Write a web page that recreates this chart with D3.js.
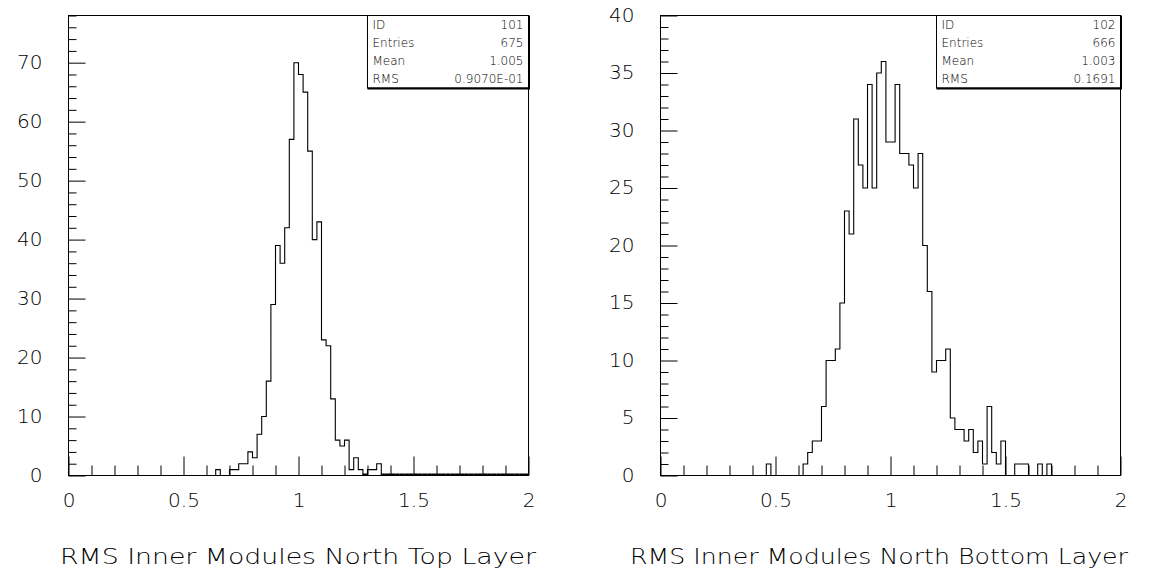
<!DOCTYPE html>
<html>
<head>
<meta charset="utf-8">
<script src="https://cdn.jsdelivr.net/npm/d3@7"></script>
<style>
  body { margin: 0; background: #fff; }
  svg { display: block; }
  text { font-family: 'DejaVu Sans', sans-serif; font-weight: 200; fill: #000; }
</style>
</head>
<body>
<div id="chart"></div>
<script>
// Data: 100 bins of width 0.02 from 0 to 2
const binEdges = [0, 2]
const binCount = 100
const topLayerCounts = [
  0,0,0,0,0,0,0,0,0,0,
  0,0,0,0,0,0,0,0,0,0,
  0,0,0,0,0,0,0,0,0,0,
  0,0,1,0,0,1,1,2,2,4,
  3,7,10,16,29,39,36,42,57,70,
  68,65,55,40,43,23,22,13,6,5,
  6,1,3,1,0,1,1,2,0,0,
  0,0,0,0,0,0,0,0,0,0,
  0,0,0,0,0,0,0,0,0,0,
  0,0,0,0,0,0,0,0,0,0
]
const bottomLayerCounts = [
  0,0,0,0,0,0,0,0,0,0,
  0,0,0,0,0,0,0,0,0,0,
  0,0,0,1,0,0,0,0,0,0,
  0,1,2,3,3,6,10,10,11,15,
  23,21,31,27,25,34,25,35,36,29,
  29,34,28,28,27,25,28,20,16,9,
  10,10,11,5,4,4,3,4,2,3,
  1,6,2,1,3,0,0,1,1,1,
  0,0,1,0,1,0,0,0,0,0,
  0,0,0,0,0,0,0,0,0,0
]
const xMajorTicks = [0, 0.5, 1, 1.5, 2]
const topYMajorTicks = [0, 10, 20, 30, 40, 50, 60, 70]
const bottomYMajorTicks = [0, 5, 10, 15, 20, 25, 30, 35, 40]
const statLabels = ['ID', 'Entries', 'Mean', 'RMS']
const topLayerStats = ['101', '675', '1.005', '0.9070E-01']
const bottomLayerStats = ['102', '666', '1.003', '0.1691']
const titles = ['RMS Inner Modules North Top Layer', 'RMS Inner Modules North Bottom Layer']

;(({ width, height }) => {
  const svg = d3.select('#chart').append('svg')
    .attr('width', width)
    .attr('height', height)

  const panels = [
    { counts: topLayerCounts, yMax: 78, yTicks: topYMajorTicks, yMinorStep: 2,
      stats: topLayerStats, title: titles[0], heavyZeroTail: true,
      left: 68.5, right: 528.5, boxLeft: 367.5, titleX: 298, titleLen: 476 },
    { counts: bottomLayerCounts, yMax: 40, yTicks: bottomYMajorTicks, yMinorStep: 1,
      stats: bottomLayerStats, title: titles[1], heavyZeroTail: false,
      left: 660.5, right: 1120.5, boxLeft: 936.5, titleX: 879, titleLen: 498 }
  ]
  const top = 15.5, bottom = 475.5

  panels.forEach(p => {
    const g = svg.append('g')
    const x = d3.scaleLinear().domain(binEdges).range([p.left, p.right])
    const y = d3.scaleLinear().domain([0, p.yMax]).range([bottom, top])
    const binWidth = (binEdges[1] - binEdges[0]) / binCount
    const binStart = i => binEdges[0] + i * binWidth

    // Histogram (step line)
    const pts = p.counts.map((c, i) => [binStart(i), c])
    pts.push([binEdges[1], p.counts[p.counts.length - 1]])
    g.append('path')
      .attr('d', d3.line().x(d => x(d[0])).y(d => y(d[1])).curve(d3.curveStepAfter)(pts))
      .attr('fill', 'none')
      .attr('stroke', '#000')
      .attr('stroke-width', 1.1)

    // Empty bins right of the peak print heavier on the axis line
    if (p.heavyZeroTail) {
      const peak = d3.maxIndex(p.counts)
      p.counts.forEach((c, i) => {
        if (i > peak && c === 0) {
          g.append('line')
            .attr('x1', x(binStart(i))).attr('x2', x(binStart(i + 1)))
            .attr('y1', y(0) - 1).attr('y2', y(0) - 1)
            .attr('stroke', '#000').attr('stroke-width', 2)
        }
      })
    }

    // Frame
    g.append('rect')
      .attr('x', p.left).attr('y', top)
      .attr('width', p.right - p.left).attr('height', bottom - top)
      .attr('fill', 'none').attr('stroke', '#000')

    // X axis ticks
    const xMinor = d3.range(0, 20.5).map(d => d / 10).filter(d => !xMajorTicks.includes(d))
    g.append('g')
      .attr('transform', `translate(0,${bottom})`)
      .call(d3.axisBottom(x).tickValues(xMinor).tickSize(-10).tickSizeOuter(0).tickFormat(''))
    g.append('g')
      .attr('class', 'xlab')
      .attr('transform', `translate(0,${bottom})`)
      .call(d3.axisBottom(x).tickValues(xMajorTicks).tickSize(-19).tickSizeOuter(0)
        .tickPadding(17).tickFormat(d => String(d)))

    // Y axis ticks
    const yMinor = d3.range(0, p.yMax + 0.01, p.yMinorStep).filter(d => !p.yTicks.includes(d))
    g.append('g')
      .attr('transform', `translate(${p.left},0)`)
      .call(d3.axisLeft(y).tickValues(yMinor).tickSize(-8).tickSizeOuter(0).tickFormat(''))
    g.append('g')
      .attr('class', 'ylab')
      .attr('transform', `translate(${p.left},0)`)
      .call(d3.axisLeft(y).tickValues(p.yTicks).tickSize(-17).tickSizeOuter(0)
        .tickPadding(26).tickFormat(d => String(d)))

    g.selectAll('.domain').remove()
    g.selectAll('.tick line').attr('stroke', '#000')
    g.selectAll('.xlab text, .ylab text')
      .attr('font-family', "'DejaVu Sans', sans-serif")
      .attr('font-weight', 200)
      .attr('font-size', 20)
      .attr('fill', '#000')
    g.selectAll('.ylab text').attr('dy', '0.28em')

    // Statistics box
    const boxBottom = 88
    const rowH = (boxBottom - top) / statLabels.length
    g.append('rect')
      .attr('x', p.boxLeft).attr('y', top)
      .attr('width', p.right - p.boxLeft).attr('height', boxBottom - top)
      .attr('fill', '#fff').attr('stroke', '#000')
    g.append('path')
      .attr('d', `M${p.boxLeft},${boxBottom + 0.5}H${p.right + 0.5}V${top}`)
      .attr('fill', 'none').attr('stroke', '#000').attr('stroke-width', 2)
    statLabels.forEach((label, k) => {
      const ty = top + rowH * (k + 0.5)
      g.append('text')
        .attr('x', p.boxLeft + 5).attr('y', ty).attr('dy', '0.35em')
        .attr('font-size', 12).text(label)
      g.append('text')
        .attr('x', p.right - 5).attr('y', ty).attr('dy', '0.35em')
        .attr('text-anchor', 'end')
        .attr('font-size', 12).text(p.stats[k])
    })

    // Title under the axis
    g.append('text')
      .attr('x', p.titleX).attr('y', 564)
      .attr('text-anchor', 'middle')
      .attr('font-size', 21)
      .attr('textLength', p.titleLen)
      .attr('lengthAdjust', 'spacingAndGlyphs')
      .text(p.title)
  })
})({ width: 1153, height: 581 })
</script>
</body>
</html>
